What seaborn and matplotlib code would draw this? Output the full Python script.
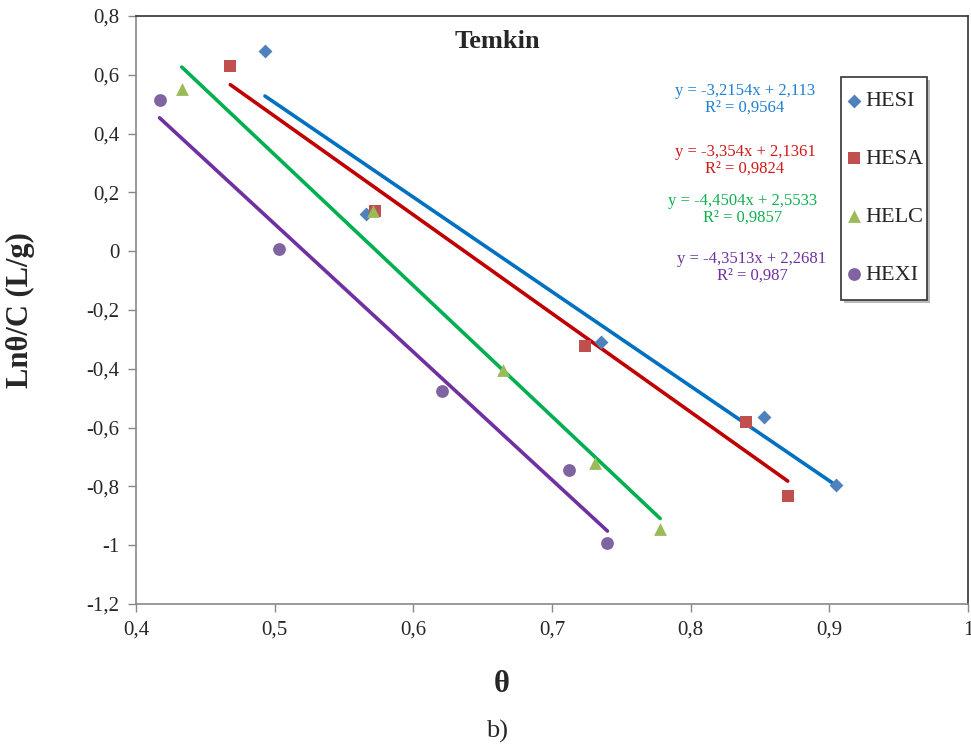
import numpy as np
import pandas as pd
import matplotlib
matplotlib.use("Agg")
import matplotlib.pyplot as plt
import seaborn as sns
from matplotlib.ticker import FuncFormatter
from matplotlib.patches import Rectangle

series = ["HESI", "HESA", "HELC", "HEXI"]
theta_hesi = [0.493, 0.566, 0.735, 0.853, 0.905]
ln_hesi = [0.680, 0.126, -0.310, -0.565, -0.796]
theta_hesa = [0.468, 0.572, 0.724, 0.840, 0.870]
ln_hesa = [0.629, 0.136, -0.323, -0.582, -0.833]
theta_helc = [0.433, 0.571, 0.665, 0.731, 0.778]
ln_helc = [0.552, 0.136, -0.405, -0.721, -0.946]
theta_hexi = [0.417, 0.503, 0.621, 0.712, 0.740]
ln_hexi = [0.514, 0.007, -0.476, -0.745, -0.993]

slopes = [-3.2154, -3.354, -4.4504, -4.3513]
intercepts = [2.113, 2.1361, 2.5533, 2.2681]
r2 = ["0,9564", "0,9824", "0,9857", "0,987"]
eq_texts = ["y = -3,2154x + 2,113", "y = -3,354x + 2,1361",
            "y = -4,4504x + 2,5533", "y = -4,3513x + 2,2681"]

xs = [theta_hesi, theta_hesa, theta_helc, theta_hexi]
ys = [ln_hesi, ln_hesa, ln_helc, ln_hexi]

df = pd.DataFrame({
    "theta": sum(xs, []),
    "ln": sum(ys, []),
    "series": sum([[s] * len(x) for s, x in zip(series, xs)], []),
})

marker_colors = {"HESI": "#4F81BD", "HESA": "#C0504D", "HELC": "#9BBB59", "HEXI": "#8064A2"}
line_colors = {"HESI": "#0070C0", "HESA": "#C00000", "HELC": "#00B050", "HEXI": "#7030A0"}
text_colors = {"HESI": "#1F7FD0", "HESA": "#D01818", "HELC": "#10B050", "HEXI": "#7030A0"}
markers = {"HESI": "D", "HESA": "s", "HELC": "^", "HEXI": "o"}
msizes = {"HESI": 50, "HESA": 75, "HELC": 85, "HEXI": 85}

serif = ["Liberation Serif", "DejaVu Serif"]
sns.set_theme(style="white")
plt.rcParams["font.family"] = serif

W, H = 971, 749
fig = plt.figure(figsize=(W / 100, H / 100), dpi=100)
ax = fig.add_axes([136 / W, 1 - 604 / H, (968 - 136) / W, (604 - 16) / H])

# trend lines
line_rows = []
for s, x, m, b in zip(series, xs, slopes, intercepts):
    for v in (min(x), max(x)):
        line_rows.append({"theta": v, "ln": m * v + b, "series": s})
ldf = pd.DataFrame(line_rows)
sns.lineplot(data=ldf, x="theta", y="ln", hue="series", palette=line_colors,
             linewidth=2.6, legend=False, ax=ax, sort=False)

for s in series:
    sub = df[df["series"] == s]
    sns.scatterplot(data=sub, x="theta", y="ln", color=marker_colors[s],
                    marker=markers[s], s=msizes[s], linewidth=0, ax=ax,
                    label=s, zorder=5)

ax.set_xlim(0.4, 1.0)
ax.set_ylim(-1.2, 0.8)
ax.set_xticks(np.arange(0.4, 1.01, 0.1))
ax.set_yticks(np.arange(-1.2, 0.81, 0.2))

def fmt(v, pos):
    if abs(v) < 1e-9:
        return "0"
    s = f"{v:.1f}"
    if s.endswith(".0"):
        s = s[:-2]
    return s.replace(".", ",")

ax.xaxis.set_major_formatter(FuncFormatter(fmt))
ax.yaxis.set_major_formatter(FuncFormatter(fmt))
ax.tick_params(axis="both", which="major", direction="out", length=6, width=1,
               color="#888888", labelsize=15, pad=6, left=True, bottom=True)
for sp in ["left", "bottom"]:
    ax.spines[sp].set_color("#888888")
    ax.spines[sp].set_linewidth(1.2)
for sp in ["top", "right"]:
    ax.spines[sp].set_color("#333333")
    ax.spines[sp].set_linewidth(1.2)

ax.set_xlabel("")
ax.set_ylabel("")
fig.text(20 / W, 1 - 310 / H, "Lnθ/C (L/g)", rotation=90, fontsize=22,
         fontweight="bold", ha="center", va="center")
fig.text(502 / W, 1 - 685 / H, "θ", fontsize=22, fontweight="bold",
         ha="center", va="center")
fig.text(497 / W, 1 - 731 / H, "b)", fontsize=19, ha="center", va="center")
ax.text(0.4 + (497 - 136) / 1386.7, 0.8 - (42 - 16) / 294, "Temkin",
        fontsize=19, fontweight="bold", ha="center", va="center")

eq_pos = [(745, 99), (745, 160), (743, 209), (752, 267)]
for s, (px, py), e, r in zip(series, eq_pos, eq_texts, r2):
    xd = 0.4 + (px - 136) / 1386.7
    yd = 0.8 - (py - 16) / 294
    ax.text(xd, yd, e + "\nR² = " + r, color=text_colors[s], fontsize=12,
            ha="center", va="center", linespacing=1.05, multialignment="center")

# legend frame with shadow (drawn manually for exact size)
x0, y0, x1, y1 = 841, 77, 927, 300
shadow = Rectangle((x0 / W + 3 / W, 1 - y1 / H - 3 / H), (x1 - x0) / W, (y1 - y0) / H,
                   transform=fig.transFigure, facecolor="#BBBBBB", edgecolor="none",
                   zorder=8, clip_on=False)
frame = Rectangle((x0 / W, 1 - y1 / H), (x1 - x0) / W, (y1 - y0) / H,
                  transform=fig.transFigure, facecolor="white", edgecolor="#333333",
                  linewidth=1.2, zorder=9, clip_on=False)
ax.add_artist(shadow)
ax.add_artist(frame)

leg = ax.legend(loc="center", bbox_to_anchor=(885 / W, 1 - 188 / H),
                bbox_transform=fig.transFigure,
                frameon=False, fontsize=16, labelspacing=1.68,
                handletextpad=0.15, handlelength=0.7, borderpad=0.2,
                borderaxespad=0)
leg.set_zorder(10)

fig.savefig("out.png", dpi=100)
